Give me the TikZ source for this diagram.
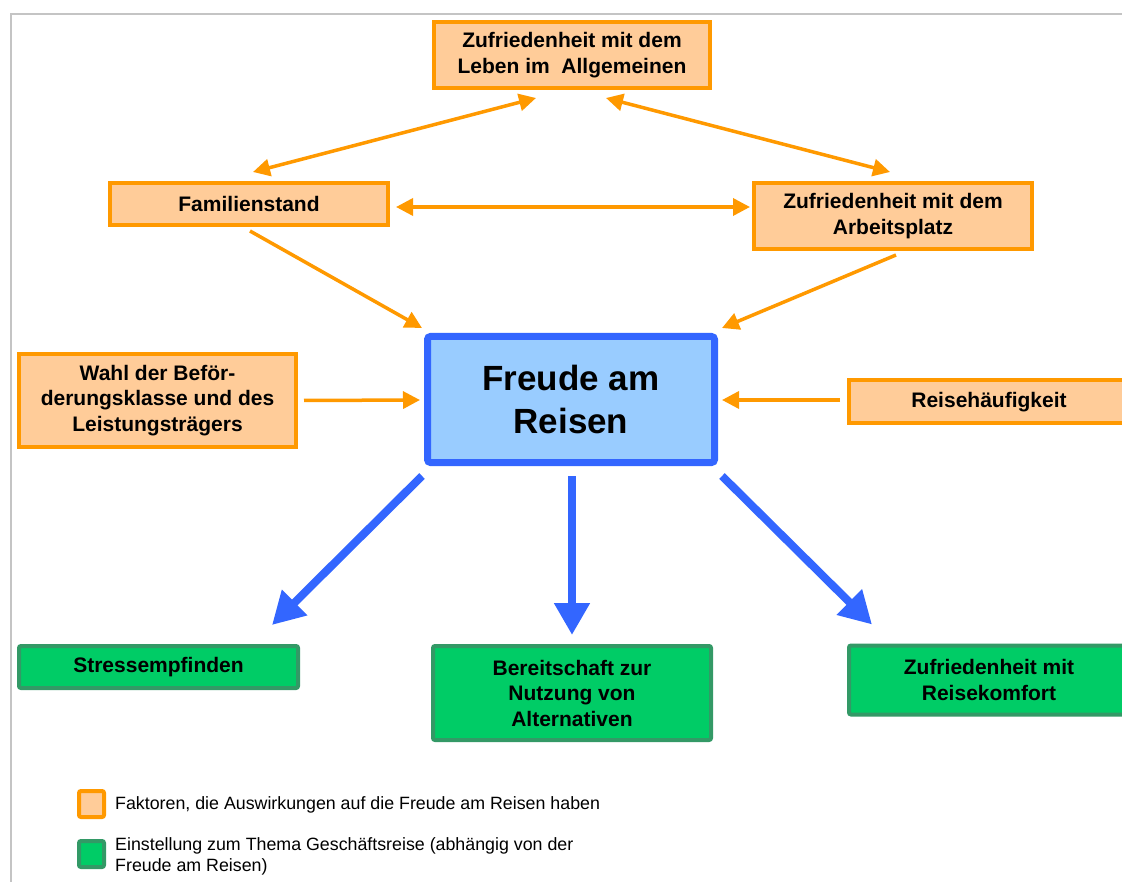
\documentclass[tikz,border=0pt]{standalone}
\usepackage{fontspec}
\setmainfont{Liberation Sans}
\usepackage{tikz}
\usetikzlibrary{arrows.meta, positioning}
\definecolor{factorborder}{HTML}{FF9900}
\definecolor{factorfill}{HTML}{FFCC99}
\definecolor{coreborder}{HTML}{3366FF}
\definecolor{corefill}{HTML}{99CCFF}
\definecolor{effectborder}{HTML}{339966}
\definecolor{effectfill}{HTML}{00CC66}
\definecolor{framegrey}{HTML}{C4C4C4}

\begin{document}
\begin{tikzpicture}[x=1pt, y=-1pt,
    factor/.style={rectangle, draw=factorborder, fill=factorfill, line width=4pt, inner sep=0pt, align=center, font=\fontsize{21}{25.5}\selectfont\bfseries},
    core/.style={rectangle, draw=coreborder, fill=corefill, rounded corners=3pt, line width=7pt, inner sep=0pt, align=center, font=\fontsize{35}{43}\selectfont\bfseries},
    effect/.style={rectangle, draw=effectborder, fill=effectfill, rounded corners=2pt, line width=4pt, inner sep=0pt, align=center, font=\fontsize{21}{25.5}\selectfont\bfseries},
    legbox/.style={rectangle, line width=4pt, rounded corners=2pt, minimum width=25pt, minimum height=26pt, inner sep=0pt},
    legtext/.style={font=\fontsize{17.8}{21}\selectfont, align=left, inner sep=0pt},
    oarrow/.style={-{Triangle[length=17pt, width=17pt]}, line width=3.5pt, color=factorborder},
    oboth/.style={{Triangle[length=17pt, width=17pt]}-{Triangle[length=17pt, width=17pt]}, line width=3.5pt, color=factorborder},
    barrow/.style={-{Triangle[length=32pt, width=34pt]}, line width=8pt, color=coreborder}
]
    \useasboundingbox (0,0) rectangle (1122,882);

    % --- Frame ---
    \draw[framegrey, line width=2pt] (11,882) -- (11,14) -- (1122,14);

    % --- Factors ---
    \node[factor, minimum width=276pt, minimum height=66pt] (leben) at (572,55) {Zufriedenheit mit dem\\Leben im\ \ Allgemeinen};
    \node[factor, minimum width=278pt, minimum height=42pt] (fam) at (249,204) {Familienstand};
    \node[factor, minimum width=278pt, minimum height=66pt] (arbeit) at (893,216) {Zufriedenheit mit dem\\Arbeitsplatz};
    \node[factor, minimum width=277pt, minimum height=93pt] (wahl) at (157.5,400.5) {Wahl der Bef\"or-\\derungsklasse und des\\Leistungstr\"agers};
    \node[factor, minimum width=280pt, minimum height=43pt] (reise) at (989,402) {Reiseh\"aufigkeit};

    % --- Core ---
    \node[core, minimum width=287pt, minimum height=126pt] (freude) at (571,399.5) {Freude am\\Reisen};

    % --- Effects ---
    \node[effect, minimum width=279pt, minimum height=42pt] (stress) at (158.5,667) {Stressempfinden};
    \node[effect, minimum width=278pt, minimum height=94pt] (bereit) at (572,693) {Bereitschaft zur\\Nutzung von\\Alternativen};
    \node[effect, minimum width=280pt, minimum height=69pt] (komfort) at (989,680) {Zufriedenheit mit\\Reisekomfort};

    % Connections between factors
    \draw[oboth] ([xshift=-36pt, yshift=-8pt]leben.south) -- ([xshift=4pt, yshift=9pt]fam.north);
    \draw[oboth] ([xshift=34pt, yshift=-8pt]leben.south) -- ([xshift=-3pt, yshift=9pt]arbeit.north);
    \draw[oboth] ([xshift=6pt, yshift=-3pt]fam.east) -- ([xshift=-2pt, yshift=9pt]arbeit.west);

    % Factors -> Core
    \draw[oarrow] ([xshift=1pt, yshift=-4pt]fam.south) -- ([xshift=-2pt, yshift=5pt]freude.north west);
    \draw[oarrow] ([xshift=3pt, yshift=-4pt]arbeit.south) -- ([xshift=4pt, yshift=5pt]freude.north east);
    \draw[oarrow] ([xshift=6pt]wahl.east) -- ([xshift=-4pt, yshift=-0.5pt]freude.west);
    \draw[oarrow] ([xshift=-7pt, yshift=2pt]reise.west) -- ([xshift=4pt, yshift=-0.5pt]freude.east);

    % Core -> Effects
    \draw[barrow] ([xshift=-2pt, yshift=-10pt]freude.south west) -- ([xshift=-28pt, yshift=19pt]stress.north east);
    \draw[barrow] ([xshift=1pt, yshift=-10pt]freude.south) -- ([yshift=9pt]bereit.north);
    \draw[barrow] ([xshift=4pt, yshift=-10pt]freude.south east) -- ([xshift=25pt, yshift=19pt]komfort.north west);

    % --- Legend ---
    \node[legbox, draw=factorborder, fill=factorfill] (legfactor) at (91.5,804) {};
    \node[legbox, draw=effectborder, fill=effectfill] (legeffect) at (91.5,854) {};
    \node[legtext, anchor=west] at (115,805) {Faktoren, die Auswirkungen auf die Freude am Reisen haben};
    \node[legtext, anchor=west] at (115,856) {Einstellung zum Thema Gesch\"aftsreise (abh\"angig von der\\Freude am Reisen)};
\end{tikzpicture}
\end{document}
